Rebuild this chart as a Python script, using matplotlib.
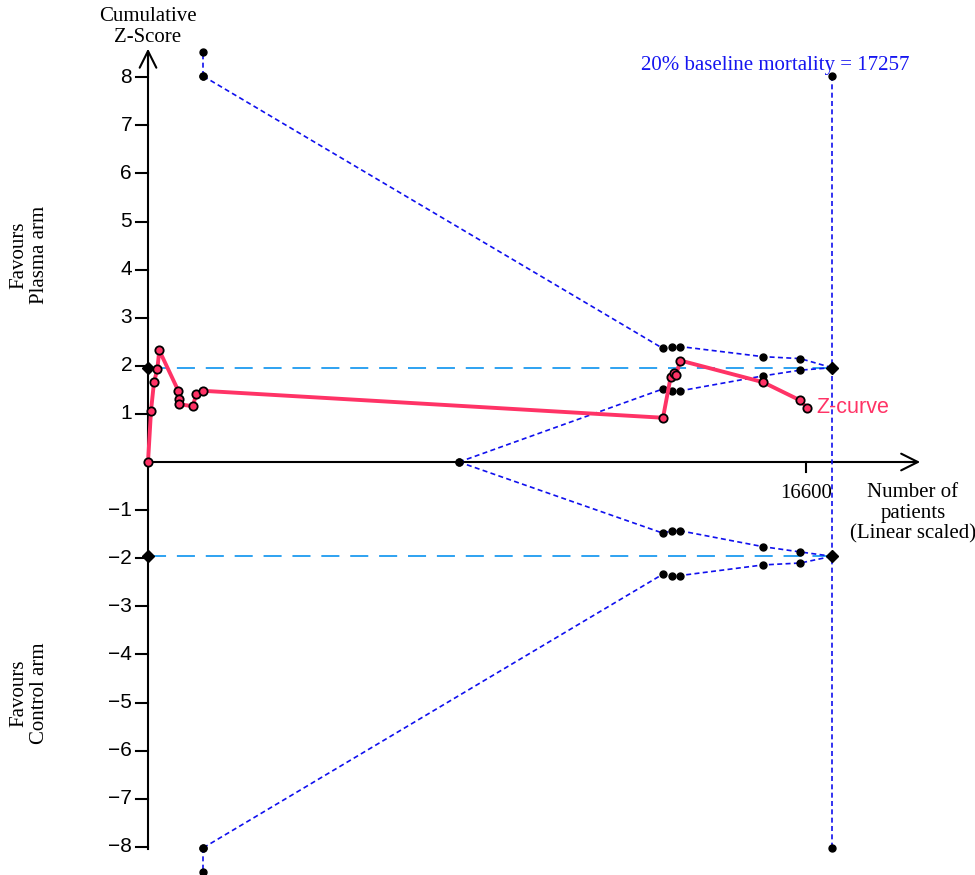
import numpy as np
import matplotlib
matplotlib.use("Agg")
import matplotlib.pyplot as plt

# cumulative Z-curve
z_patients = [0, 76, 151, 235, 285, 765, 790, 790, 1128, 1219, 1396,
              12992, 13186, 13260, 13320, 13428, 15514, 16456, 16617]
z_scores = [0, 1.07, 1.66, 1.93, 2.32, 1.48, 1.31, 1.20, 1.16, 1.41, 1.48,
            0.92, 1.77, 1.86, 1.80, 2.11, 1.66, 1.28, 1.13]

# monitoring boundary (upper, mirrored for lower)
bound_patients = [1396, 12992, 13211, 13428, 15514, 16456, 17257]
bound_upper = [8.02, 2.36, 2.40, 2.40, 2.19, 2.15, 1.96]
bound_lower = [-8.02, -2.33, -2.36, -2.36, -2.14, -2.10, -1.96]
bound_trunc = 8.52

# futility (inner wedge)
fut_patients = [7846, 12992, 13211, 13428, 15514, 16456, 17257]
fut_upper = [0, 1.52, 1.48, 1.48, 1.79, 1.91, 1.96]
fut_lower = [0, -1.48, -1.43, -1.43, -1.76, -1.87, -1.96]

ris = 17257
conv_z = 1.96
y_ticks = [8, 7, 6, 5, 4, 3, 2, 1, -1, -2, -3, -4, -5, -6, -7, -8]

fig = plt.figure(figsize=(9.75, 8.75), dpi=100)
ax = fig.add_axes([0, 0, 1, 1])
ax.set_xlim(-3734, 20863)
ax.set_ylim(-8.586, 9.605)
ax.axis('off')

serif = 'Liberation Serif'
sans = 'Liberation Sans'
pxx = 1 / 0.03964   # data units per pixel (x)
pxy = 1 / 48.1      # data units per pixel (y)

# axes
ax.plot([0, 0], [-8.05, 8.45], color='black', lw=1.5)
ax.annotate('', xy=(0, 8.65), xytext=(0, 8.0),
            arrowprops=dict(arrowstyle='->', color='black', lw=1.5, mutation_scale=30))
ax.plot([0, 19300], [0, 0], color='black', lw=1.5)
ax.annotate('', xy=(19550, 0), xytext=(19000, 0),
            arrowprops=dict(arrowstyle='->', color='black', lw=1.5, mutation_scale=30))

for t in y_ticks:
    ax.plot([-12 * pxx, 0], [t, t], color='black', lw=1.5)
    ax.text(-16 * pxx, t, str(t).replace('-', '\u2212'), ha='right', va='center',
            fontsize=15, family=sans)

ax.plot([16600, 16600], [0, -10 * pxy], color='black', lw=1.5)
ax.text(16600, -22 * pxy, '16600', ha='center', va='top', fontsize=15, family=serif)

ax.text(19300, -1.07, 'Number of\npatients\n(Linear scaled)', ha='center', va='center',
        fontsize=15, family=serif, linespacing=1.1)
ax.text(0, 9.05, 'Cumulative\nZ-Score', ha='center', va='center',
        fontsize=15, family=serif, linespacing=1.15)
ax.text(-3000, 4.3, 'Favours\nPlasma arm', ha='center', va='center', rotation=90,
        fontsize=15, family=serif, linespacing=1.15)
ax.text(-3000, -4.8, 'Favours\nControl arm', ha='center', va='center', rotation=90,
        fontsize=15, family=serif, linespacing=1.15)

# conventional boundaries
for s in (1, -1):
    ax.plot([0, ris], [s * conv_z, s * conv_z], color='#1E9BF0', lw=1.3,
            dashes=(10, 6), zorder=2)
    ax.plot(0, s * conv_z, marker='D', color='black', ms=6, zorder=5)

# monitoring boundaries
blue = '#1010EE'
ax.plot(bound_patients, bound_upper, color=blue, lw=1.2, ls=(0, (3, 2)),
        marker='o', mfc='black', mec='black', ms=5, zorder=3)
ax.plot(bound_patients, bound_lower, color=blue, lw=1.2, ls=(0, (3, 2)),
        marker='o', mfc='black', mec='black', ms=5, zorder=3)
ax.plot([bound_patients[0]] * 2, [bound_upper[0], bound_trunc], color=blue, lw=1.2,
        ls=(0, (3, 2)), marker='o', mfc='black', mec='black', ms=5, zorder=3)
ax.plot([bound_patients[0]] * 2, [bound_lower[0], -bound_trunc], color=blue, lw=1.2,
        ls=(0, (3, 2)), marker='o', mfc='black', mec='black', ms=5, zorder=3)

# futility wedge
ax.plot(fut_patients, fut_upper, color=blue, lw=1.2, ls=(0, (3, 2)),
        marker='o', mfc='black', mec='black', ms=5, zorder=3)
ax.plot(fut_patients, fut_lower, color=blue, lw=1.2, ls=(0, (3, 2)),
        marker='o', mfc='black', mec='black', ms=5, zorder=3)

# required information size line
ax.plot([ris, ris], [8.02, -8.02], color=blue, lw=1.2, ls=(0, (3, 2)), zorder=3)
ax.plot([ris, ris], [8.02, -8.02], ls='none', marker='o', color='black', ms=5, zorder=4)
ax.plot([ris, ris], [conv_z, -conv_z], ls='none', marker='D', color='black', ms=6, zorder=5)
ax.text(15817, 8.25, '20% baseline mortality = 17257', ha='center', va='center',
        color='#1515F0', fontsize=15, family=serif)

# Z-curve
pink = '#FF3366'
ax.plot(z_patients, z_scores, color=pink, lw=2.8, marker='o', mfc=pink, mec='black',
        mew=1.3, ms=6, zorder=6)
ax.text(16850, 1.13, 'Z-curve', color=pink, fontsize=15.5, family=sans,
        ha='left', va='center', zorder=7)

fig.savefig('out.png', dpi=100)
